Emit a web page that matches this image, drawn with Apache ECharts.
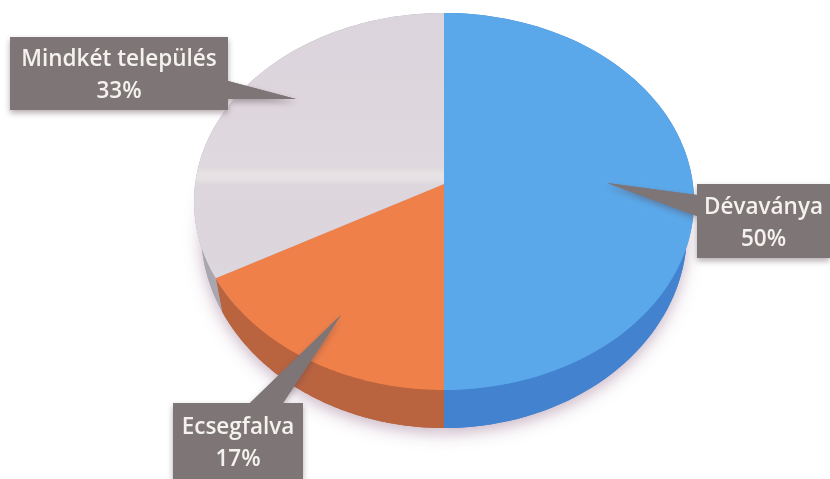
<!DOCTYPE html>
<html><head><meta charset="utf-8">
<style>html,body{margin:0;padding:0;background:#fff}#c{width:830px;height:479px}</style>
<script src="https://cdn.jsdelivr.net/npm/echarts@6/dist/echarts.min.js"></script>
</head><body><div id="c"></div>
<script>
const categories = ['Dévaványa', 'Ecsegfalva', 'Mindkét település'];
const shares = [50, 17, 33];

// look of the slices, by category
const topColors = ['#5aa8ea', '#ef8049', '#dcd5dc'];
const wallColors = ['#4282cf', '#b9633f', '#aaa6b0'];
// callouts, by category: box [x0,y0,x1,y1], tail [base, base, tip]
const boxes = [[697,184,830,258],[173,403,303,479],[10,37,228,110]];
const tails = [[[697,195],[697,216],[607,183]],[[250,403],[283,403],[341,315]],[[228,81],[228,99],[296,99]]];

// perspective projection of the pie disc
const AX=444, AY=184, K=0.0928, A=186.9, B=248.9;
const ECY=201, LCY=231, SX=243/250, SY=197/189;
const total = shares.reduce((a,b)=>a+b,0);
function project(t){
  const u=Math.sin(t), v=-Math.cos(t), d=1-K*v;
  return [AX+B*u/d, AY+A*v/d];
}
function lower(p){ return [AX+(p[0]-AX)*SX, LCY+(p[1]-ECY)*SY]; }
function arc(i){
  let before=0; for(let j=0;j<i;j++) before+=shares[j];
  const a0=before/total*2*Math.PI, a1=(before+shares[i])/total*2*Math.PI, pts=[];
  const n=90;
  for(let s=0;s<=n;s++) pts.push(project(a0+(a1-a0)*s/n));
  return pts;
}
const seriesData = categories.map((c,i)=>({name:c,value:shares[i]}));
const base = {type:'custom',coordinateSystem:'none',data:seriesData,silent:true,animation:false,clip:false};

const grey = {type:'linear',x:0,y:0,x2:0,y2:1,colorStops:[
  {offset:0,color:'#dcd4dc'},{offset:0.58,color:'#dfd8de'},{offset:0.605,color:'#e6e2e3'},
  {offset:0.625,color:'#e6e2e3'},{offset:0.65,color:'#ddd6dc'},{offset:1,color:'#dcd6dd'}]};

const option = {
  backgroundColor:'#ffffff',
  series:[
    Object.assign({},base,{z:1,renderItem(p){
      const i=p.dataIndex, low=arc(i).map(lower);
      return {type:'polygon',shape:{points:[lower([AX,AY])].concat(low)},
        style:{fill:wallColors[i],shadowBlur:16,shadowColor:'rgba(150,110,140,0.5)',shadowOffsetY:5}};
    }}),
    Object.assign({},base,{z:2,renderItem(p){
      const i=p.dataIndex, pts=arc(i), low=pts.map(lower).reverse();
      return {type:'polygon',shape:{points:pts.concat(low)},style:{fill:wallColors[i]}};
    }}),
    Object.assign({},base,{z:3,renderItem(p){
      const i=p.dataIndex, pts=arc(i);
      return {type:'polygon',shape:{points:[[AX,AY]].concat(pts)},
        style:{fill:i===2?grey:topColors[i]}};
    }}),
    Object.assign({},base,{z:4,renderItem(p){
      const i=p.dataIndex, b=boxes[i], t=tails[i], cx=(b[0]+b[2])/2, cy=(b[1]+b[3])/2;
      const font='600 22.5px "Open Sans"';
      const shadow={shadowBlur:6,shadowColor:'rgba(90,70,80,0.45)',shadowOffsetY:3};
      return {type:'group',children:[
        {type:'polygon',shape:{points:t},style:Object.assign({fill:'#7e7577'},shadow)},
        {type:'rect',shape:{x:b[0],y:b[1],width:b[2]-b[0],height:b[3]-b[1]},style:Object.assign({fill:'#7e7577'},shadow)},
        {type:'polygon',shape:{points:t},style:{fill:'#7e7577'}},
        {type:'text',style:{x:cx,y:cy-13.5,text:categories[i],fill:'#f4f2ee',font,align:'center',verticalAlign:'middle'}},
        {type:'text',style:{x:cx,y:cy+18.5,text:shares[i]+'%',fill:'#f4f2ee',font,align:'center',verticalAlign:'middle'}}
      ]};
    }})
  ]
};
echarts.init(document.getElementById('c')).setOption(option);
</script></body></html>
